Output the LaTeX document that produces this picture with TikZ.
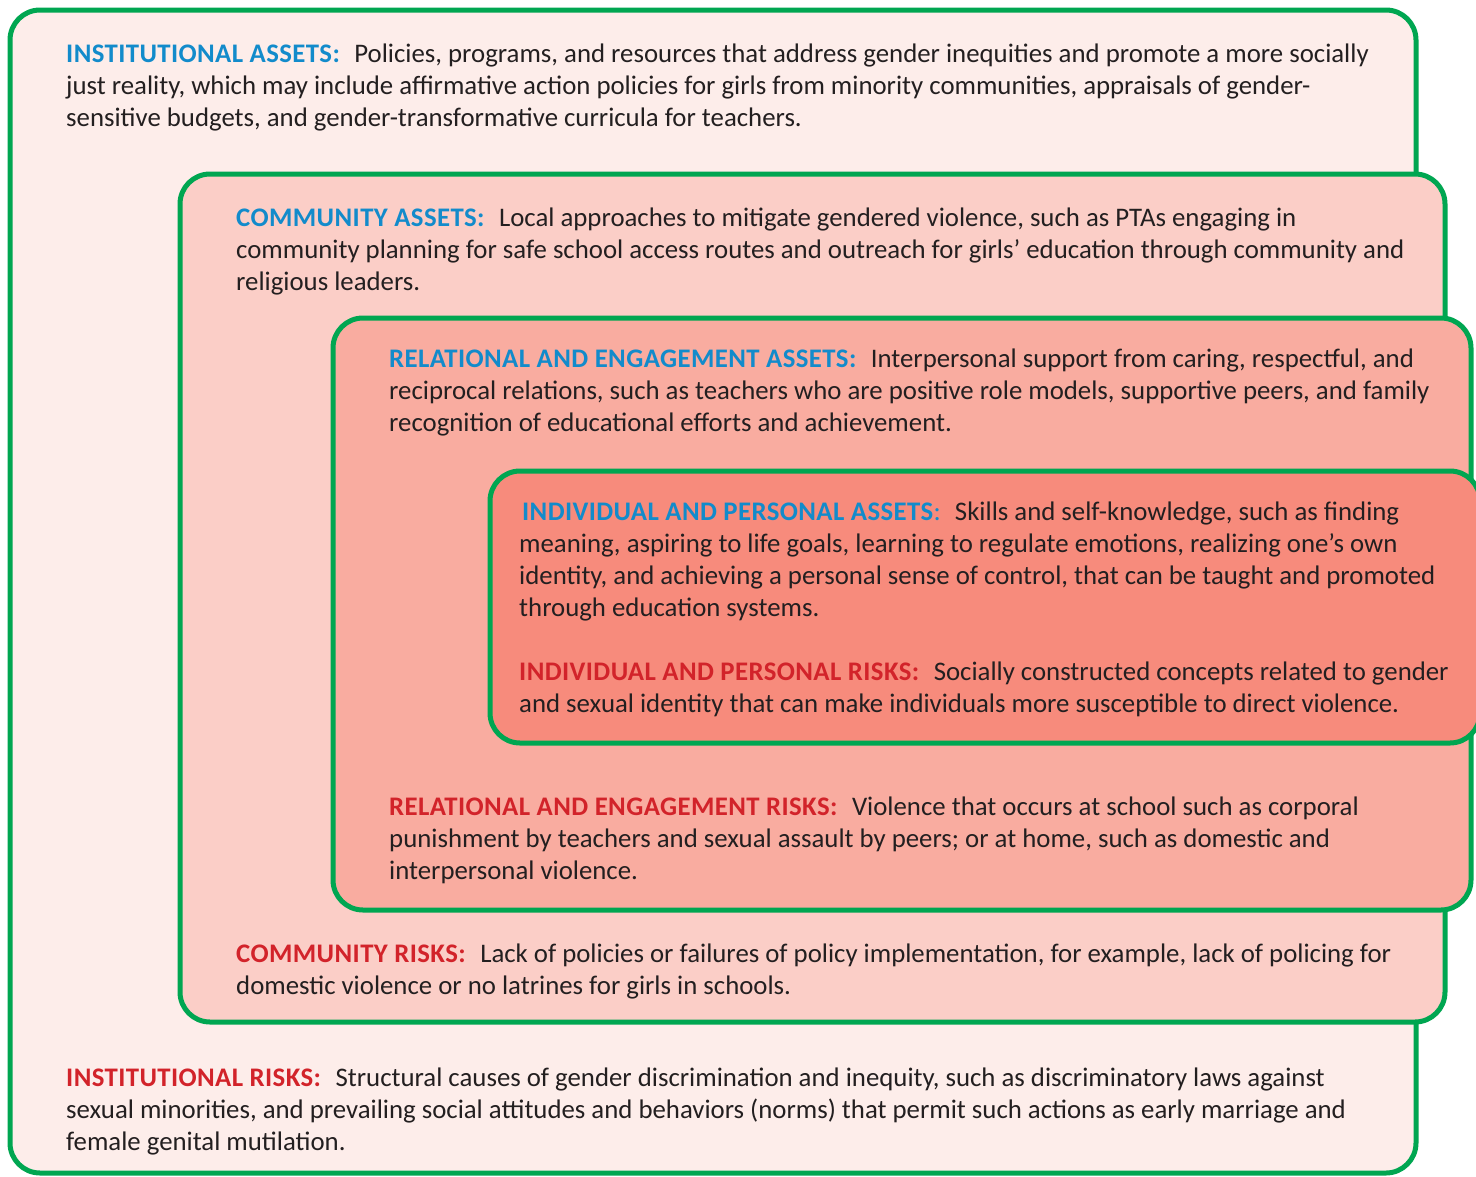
\documentclass[tikz,border=0pt]{standalone}
\usepackage{fontspec}
\setmainfont{Carlito}
\usetikzlibrary{positioning}

\definecolor{framegreen}{HTML}{00A651}
\definecolor{instfill}{HTML}{FDEDEA}
\definecolor{commfill}{HTML}{FBCEC7}
\definecolor{relfill}{HTML}{F9ACA0}
\definecolor{indfill}{HTML}{F78B7C}
\definecolor{assetblue}{HTML}{128BCB}
\definecolor{riskred}{HTML}{D2232A}
\definecolor{bodygray}{HTML}{231F20}

\newcommand{\assethead}[1]{\textcolor{assetblue}{\addfontfeature{LetterSpace=1.5}\textbf{#1}}}
\newcommand{\riskhead}[1]{\textcolor{riskred}{\addfontfeature{LetterSpace=1.5}\textbf{#1}}}

\tikzset{
  layerbox/.style={rectangle, draw=framegreen, line width=5pt, rounded corners=30pt, inner sep=0pt},
  % anchored on the baseline of the last line
  blurb/.style={anchor=base west, align=left, inner sep=0pt, text=bodygray, font=\fontsize{26.8}{32}\selectfont},
}

\begin{document}
\begin{tikzpicture}[x=1pt, y=-1pt]
    \useasboundingbox (0,0) rectangle (1476,1176);

    % nested layers
    \node[layerbox, fill=instfill, minimum width=1406pt, minimum height=1163pt] (instbox) at (713,591.5) {};
    \node[layerbox, fill=commfill, minimum width=1265pt, minimum height=848pt] (commbox) at (812.5,598) {};
    \node[layerbox, fill=relfill, minimum width=1138pt, minimum height=592pt] (relbox) at (902,614) {};
    \node[layerbox, fill=indfill, minimum width=990pt, minimum height=272pt] (indbox) at (985,607) {};

    % assets
    \node[blurb] (instassets) at (66,126) {\assethead{INSTITUTIONAL ASSETS:}\hspace{0.3em} Policies, programs, and resources that address gender inequities and promote a more socially\\
just reality, which may include affirmative action policies for girls from minority communities, appraisals of gender-\\
sensitive budgets, and gender-transformative curricula for teachers.};
    \node[blurb] (commassets) at (236,290) {\assethead{COMMUNITY ASSETS:}\hspace{0.3em} Local approaches to mitigate gendered violence, such as PTAs engaging in\\
community planning for safe school access routes and outreach for girls’ education through community and\\
religious leaders.};
    \node[blurb] (relassets) at (389,431) {\assethead{RELATIONAL AND ENGAGEMENT ASSETS:}\hspace{0.3em} Interpersonal support from caring, respectful, and\\
reciprocal relations, such as teachers who are positive role models, supportive peers, and family\\
recognition of educational efforts and achievement.};
    \node[blurb] (indassets) at (519,616) {\hspace{3pt}\assethead{INDIVIDUAL AND PERSONAL ASSETS}\textcolor{assetblue}{:}\hspace{0.3em} Skills and self-knowledge, such as finding\\
meaning, aspiring to life goals, learning to regulate emotions, realizing one’s own\\
identity, and achieving a personal sense of control, that can be taught and promoted\\
through education systems.};

    % risks
    \node[blurb] (indrisks) at (519,712) {\riskhead{INDIVIDUAL AND PERSONAL RISKS:}\hspace{0.3em} Socially constructed concepts related to gender\\
and sexual identity that can make individuals more susceptible to direct violence.};
    \node[blurb] (relrisks) at (389,879) {\riskhead{RELATIONAL AND ENGAGEMENT RISKS:}\hspace{0.3em} Violence that occurs at school such as corporal\\
punishment by teachers and sexual assault by peers; or at home, such as domestic and\\
interpersonal violence.};
    \node[blurb] (commrisks) at (236,994) {\riskhead{COMMUNITY RISKS:}\hspace{0.3em} Lack of policies or failures of policy implementation, for example, lack of policing for\\
domestic violence or no latrines for girls in schools.};
    \node[blurb] (instrisks) at (66,1150) {\riskhead{INSTITUTIONAL RISKS:}\hspace{0.3em} Structural causes of gender discrimination and inequity, such as discriminatory laws against\\
sexual minorities, and prevailing social attitudes and behaviors (norms) that permit such actions as early marriage and\\
female genital mutilation.};
\end{tikzpicture}
\end{document}
